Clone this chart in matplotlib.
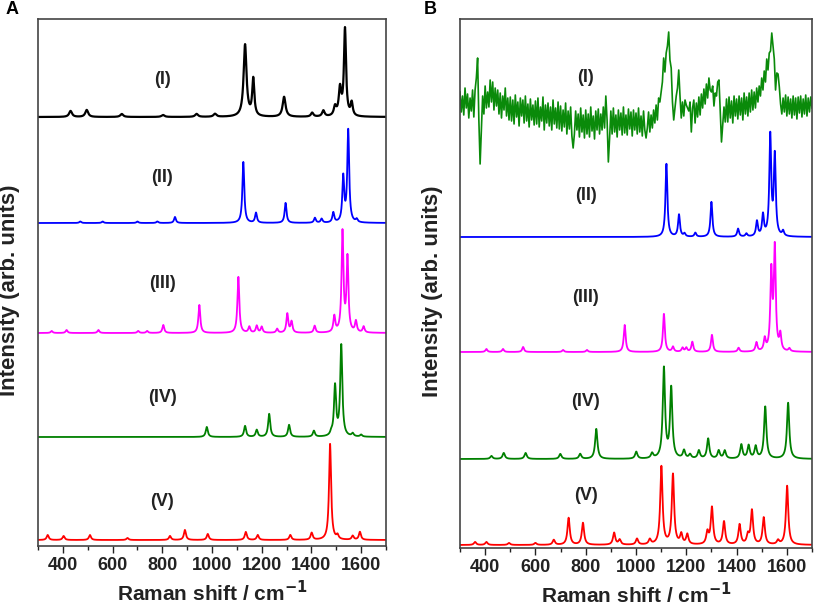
import numpy as np
import matplotlib
matplotlib.use("Agg")
import matplotlib.pyplot as plt
from matplotlib.ticker import MultipleLocator

plt.rcParams['font.family'] = ['Liberation Sans', 'DejaVu Sans']
plt.rcParams['font.weight'] = 'bold'

# ---------------- data (peak positions / heights, baselines) ----------------
spectra_labels = ["(I)", "(II)", "(III)", "(IV)", "(V)"]

# Panel A
A_offsets = [429, 323, 213, 109, 6]
A1_pos = [431, 496, 637, 803, 938, 1012, 1133, 1166, 1290, 1403, 1448, 1495, 1515, 1535, 1562]
A1_hgt = [6, 7, 3, 2, 3, 3, 72, 37, 20, 4, 6, 9, 27, 87, 13]
A1_wid = [14, 14, 14, 14, 14, 14, 14, 10, 14, 12, 12, 12, 12, 10, 10]

A2_pos = [470, 560, 700, 780, 851, 1126, 1177, 1296, 1414, 1441, 1488, 1528, 1548, 1582]
A2_hgt = [1.5, 1.5, 1.5, 1.5, 6, 61, 10, 20, 5, 4, 10, 45, 92, 3]

A3_pos = [355, 415, 543, 703, 739, 804, 949, 1106, 1150, 1180, 1200, 1262, 1303, 1320,
          1413, 1492, 1525, 1545, 1579, 1610]
A3_hgt = [2, 3, 3, 2, 2, 8, 28, 56, 6, 7, 6, 4, 19, 11, 7, 16, 100, 74, 11, 6]

A4_pos = [979, 1133, 1180, 1230, 1310, 1410, 1480, 1495, 1520, 1566, 1600]
A4_hgt = [10, 11, 7, 23, 12, 6, 3, 50, 91, 3, 2]

A5_pos = [339, 403, 509, 660, 831, 891, 983, 1136, 1184, 1315, 1401, 1475, 1505, 1566, 1595]
A5_hgt = [5, 4, 5, 2, 4, 10, 6, 8, 5, 5, 7, 96, 4, 4, 8]

# Panel B
B_offsets = [0, 311, 196, 89, 3]
B1_shift = list(range(300, 1701, 5))
B1_int = [
    456, 436, 452, 433, 460, 440, 454, 430, 450, 437,   # 300-345
    458, 431, 458, 470, 490, 428, 384, 418, 452, 434,   # 350-395
    462, 440, 456, 441, 468, 446, 466, 438, 460, 442,   # 400-445
    458, 434, 455, 430, 452, 438, 460, 432, 450, 428,   # 450-495
    451, 427, 448, 424, 453, 431, 446, 422, 450, 432,   # 500-545
    448, 425, 452, 427, 444, 421, 449, 428, 443, 423,   # 550-595
    447, 424, 450, 421, 441, 427, 451, 418, 443, 425,   # 600-645
    445, 422, 441, 418, 448, 424, 440, 420, 446, 419,   # 650-695
    442, 417, 438, 421, 445, 414, 437, 419, 441, 412,   # 700-745
    400, 414, 437, 418, 434, 411, 440, 416, 433, 410,   # 750-795
    438, 414, 434, 411, 441, 417, 432, 409, 437, 418,   # 800-845
    439, 414, 434, 418, 441, 420, 452, 428, 386, 410,   # 850-895
    437, 414, 440, 416, 433, 411, 438, 418, 435, 413,   # 900-945
    441, 415, 433, 413, 439, 419, 436, 412, 438, 418,   # 950-995
    435, 414, 440, 416, 432, 412, 437, 418, 410, 420,   # 1000-1045
    436, 416, 433, 420, 438, 425, 443, 428, 450, 446,   # 1050-1095
    456, 466, 490, 476, 495, 502, 516, 488, 480, 446,   # 1100-1145
    428, 440, 452, 460, 478, 452, 430, 446, 432, 448,   # 1150-1195
    443, 440, 437, 446, 416, 440, 448, 425, 445, 431,   # 1200-1245
    451, 433, 454, 440, 459, 444, 464, 450, 470, 458,   # 1250-1295
    456, 462, 442, 455, 452, 466, 468, 438, 406, 424,   # 1300-1345
    441, 426, 449, 426, 451, 430, 447, 425, 452, 432,   # 1350-1395
    449, 429, 452, 433, 450, 428, 455, 434, 451, 432,   # 1400-1445
    455, 436, 458, 438, 456, 440, 460, 446, 462, 452,   # 1450-1495
    470, 458, 477, 466, 489, 478, 495, 497, 515, 502,   # 1500-1545
    489, 458, 475, 474, 461, 444, 434, 450, 436, 453,   # 1550-1595
    432, 451, 434, 449, 430, 452, 433, 450, 429, 451,   # 1600-1645
    435, 452, 431, 449, 434, 453, 432, 450, 436, 451,   # 1650-1695
    440]                                                # 1700

B2_pos = [1121, 1171, 1193, 1236, 1300, 1406, 1439, 1481, 1505, 1534, 1552, 1585]
B2_hgt = [73, 22, 3, 4, 35, 8, 3, 15, 21, 100, 80, 5]

B3_pos = [405, 471, 551, 710, 805, 955, 1111, 1147, 1185, 1200, 1224, 1302, 1408, 1479,
          1512, 1538, 1552, 1574, 1610]
B3_hgt = [3, 3, 5, 2, 2, 27, 38, 5, 4, 4, 10, 17, 4, 9, 12, 78, 102, 16, 3]

B4_pos = [425, 474, 561, 699, 778, 842, 1001, 1064, 1111, 1140, 1191, 1215, 1250, 1287,
          1329, 1353, 1419, 1448, 1476, 1514, 1605]
B4_hgt = [3, 6, 6, 5, 5, 30, 7, 5, 90, 70, 8, 4, 8, 20, 8, 8, 14, 13, 12, 52, 56]

B5_pos = [360, 405, 495, 600, 673, 732, 789, 913, 935, 1004, 1055, 1101, 1147, 1180, 1204,
          1284, 1302, 1350, 1412, 1445, 1461, 1508, 1565, 1601]
B5_hgt = [3, 3, 2, 2, 5, 27, 22, 12, 5, 6, 5, 78, 70, 10, 10, 12, 37, 23, 20, 9, 34, 27, 4, 59]

A_colors = ['black', '#0000FF', '#FF00FF', '#008000', '#FF0000']
B_colors = ['#0A8A0A', '#0000FF', '#FF00FF', '#008000', '#FF0000']


def lorentz_sum(x, pos, hgt, wid):
    y = np.zeros_like(x)
    if np.isscalar(wid):
        wid = [wid] * len(pos)
    for c, h, w in zip(pos, hgt, wid):
        y += h / (1.0 + ((x - c) / (w / 2.0)) ** 2)
    return y


x = np.linspace(300, 1700, 2801)

fig = plt.figure(figsize=(8.16, 6.07), dpi=100)
axA = fig.add_axes([38 / 816, 61 / 607, 348 / 816, 527 / 607])
axB = fig.add_axes([460 / 816, 59 / 607, 352 / 816, 529 / 607])

# Panel A
A_specs = [(A1_pos, A1_hgt, A1_wid), (A2_pos, A2_hgt, 9), (A3_pos, A3_hgt, 9),
           (A4_pos, A4_hgt, 10), (A5_pos, A5_hgt, 10)]
for i, ((p, h, w), off, col) in enumerate(zip(A_specs, A_offsets, A_colors)):
    axA.plot(x, off + lorentz_sum(x, p, h, w), color=col, lw=1.6 if i == 0 else 1.3)

# Panel B
axB.plot(B1_shift, B1_int, color=B_colors[0], lw=1.2)
B_specs = [(B2_pos, B2_hgt, 9), (B3_pos, B3_hgt, 9), (B4_pos, B4_hgt, 11), (B5_pos, B5_hgt, 11)]
for (p, h, w), off, col in zip(B_specs, B_offsets[1:], B_colors[1:]):
    axB.plot(x, off + lorentz_sum(x, p, h, w), color=col, lw=1.3)

A_label_y = [466, 368, 263, 148, 44]
B_label_y = [470, 353, 251, 146, 53]
for lab, yy in zip(spectra_labels, A_label_y):
    axA.text(800, yy, lab, ha='center', va='center', fontsize=13, fontweight='bold', color='#222222')
for lab, yy in zip(spectra_labels, B_label_y):
    axB.text(800, yy, lab, ha='center', va='center', fontsize=13, fontweight='bold', color='#222222')

for ax, ylim in ((axA, (0, 527)), (axB, (0, 529))):
    ax.set_xlim(300, 1700)
    ax.set_ylim(*ylim)
    ax.xaxis.set_major_locator(MultipleLocator(200))
    ax.xaxis.set_minor_locator(MultipleLocator(100))
    ax.set_yticks([])
    ax.tick_params(axis='x', which='major', direction='out', length=5, width=1,
                   labelsize=13, colors='#222222', pad=3)
    ax.tick_params(axis='x', which='minor', direction='out', length=3, width=1, colors='#222222')
    for s in ax.spines.values():
        s.set_color('#444444')
        s.set_linewidth(1.2)
    ax.set_xlabel('Raman shift / cm$^{\\mathbf{-1}}$', fontsize=15, fontweight='bold',
                  color='#222222', labelpad=4)
    ax.set_ylabel('Intensity (arb. units)', fontsize=16, fontweight='bold',
                  color='#222222')

axA.set_xticks(range(400, 1700, 200))
axB.set_xticks(range(400, 1700, 200))
for ax in (axA, axB):
    for lbl in ax.get_xticklabels():
        lbl.set_fontweight('bold')
axA.yaxis.set_label_coords(-18 / 348, 0.485)
axB.yaxis.set_label_coords(-17 / 352, 0.485)

fig.text(12 / 816, 1 - 10 / 607, 'A', fontsize=13, fontweight='bold', ha='center', va='center')
fig.text(430 / 816, 1 - 10 / 607, 'B', fontsize=13, fontweight='bold', ha='center', va='center')

fig.savefig('out.png', dpi=100)
